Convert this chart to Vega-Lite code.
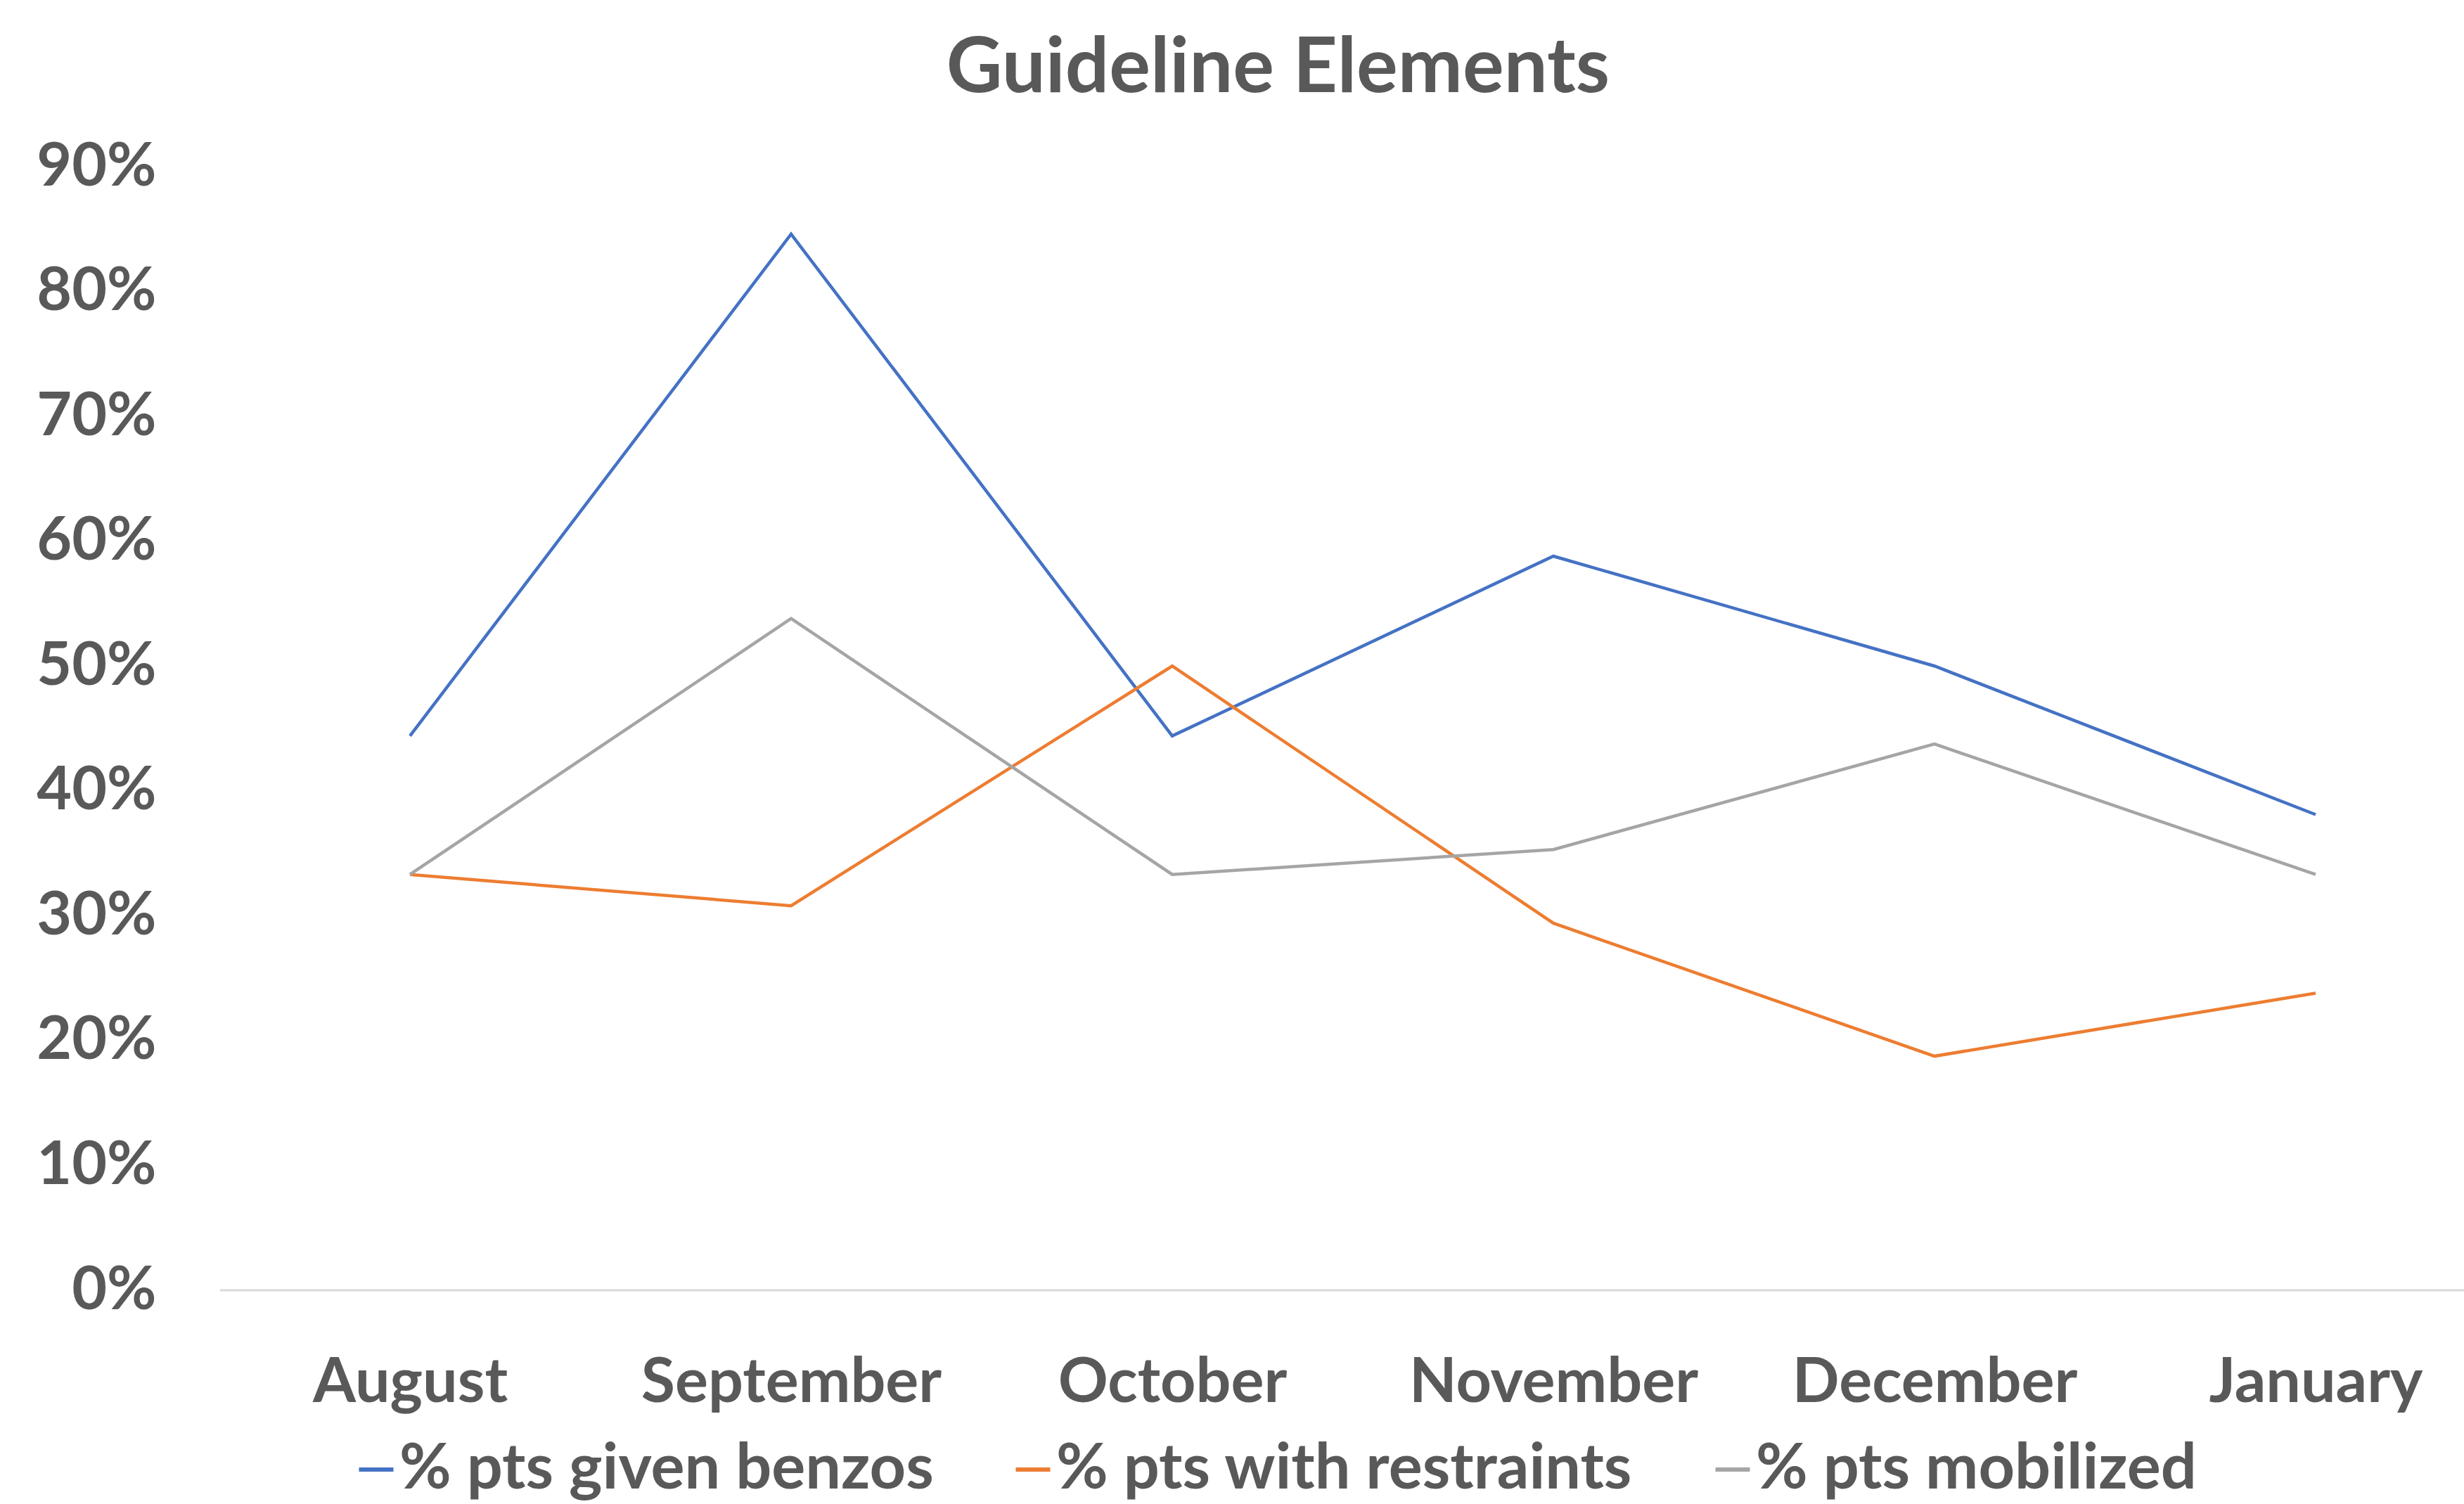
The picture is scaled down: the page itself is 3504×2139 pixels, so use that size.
{
  "$schema": "https://vega.github.io/schema/vega-lite/v6.json",
  "width": 3191,
  "height": 1598,
  "autosize": {"type": "none"},
  "padding": {"left": 313, "top": 237, "right": 0, "bottom": 304},
  "background": "white",
  "config": {"font": "Lato", "view": {"stroke": null}},
  "title": {"text": "Guideline Elements", "fontSize": 110, "fontWeight": "bold", "color": "#595959", "anchor": "middle", "dx": -91, "offset": 40},
  "data": {"values": [
    {"month": "August", "series": "% pts given benzos", "value": 0.444},
    {"month": "September", "series": "% pts given benzos", "value": 0.846},
    {"month": "October", "series": "% pts given benzos", "value": 0.444},
    {"month": "November", "series": "% pts given benzos", "value": 0.588},
    {"month": "December", "series": "% pts given benzos", "value": 0.5},
    {"month": "January", "series": "% pts given benzos", "value": 0.381},
    {"month": "August", "series": "% pts with restraints", "value": 0.333},
    {"month": "September", "series": "% pts with restraints", "value": 0.308},
    {"month": "October", "series": "% pts with restraints", "value": 0.5},
    {"month": "November", "series": "% pts with restraints", "value": 0.294},
    {"month": "December", "series": "% pts with restraints", "value": 0.1875},
    {"month": "January", "series": "% pts with restraints", "value": 0.238},
    {"month": "August", "series": "% pts mobilized", "value": 0.333},
    {"month": "September", "series": "% pts mobilized", "value": 0.538},
    {"month": "October", "series": "% pts mobilized", "value": 0.333},
    {"month": "November", "series": "% pts mobilized", "value": 0.353},
    {"month": "December", "series": "% pts mobilized", "value": 0.4375},
    {"month": "January", "series": "% pts mobilized", "value": 0.333}
  ]},
  "layer": [
    {
      "data": {"values": [{}]},
      "mark": {"type": "rule", "color": "#D9D9D9", "strokeWidth": 3},
      "encoding": {"y": {"datum": 0, "type": "quantitative"}}
    },
    {
      "mark": {"type": "line", "strokeWidth": 4.5},
      "encoding": {
        "x": {
          "field": "month", "type": "nominal",
          "sort": ["August", "September", "October", "November", "December", "January"],
          "scale": {"type": "point", "range": [270, 2980], "padding": 0},
          "axis": {"title": null, "domain": false, "ticks": false, "labelAngle": 0, "labelPadding": 88, "labelFontSize": 88, "labelFontWeight": "bold", "labelColor": "#595959", "labelLimit": 2000}
        },
        "y": {
          "field": "value", "type": "quantitative",
          "scale": {"domain": [0, 0.9], "nice": false},
          "axis": {"title": null, "format": ".0%", "values": [0, 0.1, 0.2, 0.3, 0.4, 0.5, 0.6, 0.7, 0.8, 0.9], "grid": false, "domain": false, "ticks": false, "labelPadding": 91, "labelFontSize": 86, "labelFontWeight": "bold", "labelColor": "#595959"}
        },
        "color": {
          "field": "series", "type": "nominal",
          "scale": {"domain": ["% pts given benzos", "% pts with restraints", "% pts mobilized"], "range": ["#4472C4", "#ED7D31", "#A5A5A5"]},
          "legend": {"title": null, "orient": "none", "legendX": 177, "legendY": 1808, "direction": "horizontal", "symbolType": "stroke", "symbolSize": 2401, "symbolStrokeWidth": 6, "labelFontSize": 90, "labelFontWeight": "bold", "labelColor": "#595959", "labelOffset": -12, "columnPadding": 96, "labelLimit": 0}
        }
      }
    }
  ]
}
